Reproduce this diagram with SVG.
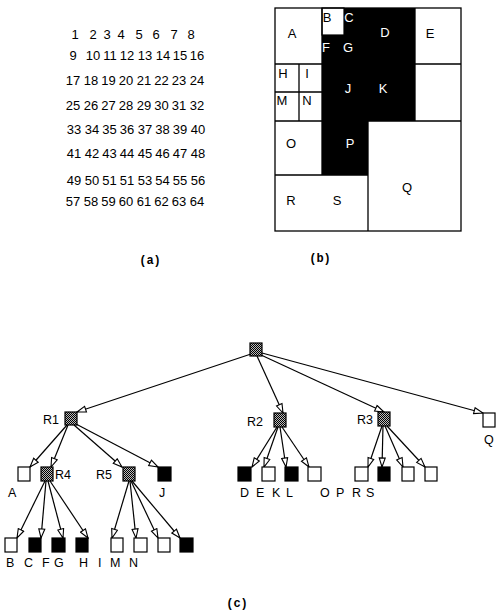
<svg xmlns="http://www.w3.org/2000/svg" width="496" height="614" viewBox="0 0 496 614">
<style>
.num{font-family:"Liberation Sans",Arial,sans-serif;font-size:13px;fill:#000;text-anchor:middle}
.lb{font-family:"Liberation Sans",Arial,sans-serif;font-size:13px;fill:#000;text-anchor:middle}
.lbw{font-family:"Liberation Sans",Arial,sans-serif;font-size:13px;fill:#fff;text-anchor:middle}
.tl{font-family:"Liberation Sans",Arial,sans-serif;font-size:12.5px;fill:#000}
.cap{font-family:"Liberation Mono","Courier New",monospace;font-size:12px;font-weight:bold;fill:#000;text-anchor:middle}
.ln{stroke:#000;stroke-width:1.3;fill:none}
.e{stroke:#000;stroke-width:1.2;fill:none;marker-end:url(#ah)}
.w{fill:#fff;stroke:#000;stroke-width:1.2}
.b{fill:#000;stroke:#000;stroke-width:1.2}
.g{fill:url(#chk);stroke:#000;stroke-width:1.2}
</style>
<defs>
<pattern id="chk" width="2" height="2" patternUnits="userSpaceOnUse"><rect width="2" height="2" fill="#bbb"/><rect width="1" height="1" fill="#000"/><rect x="1" y="1" width="1" height="1" fill="#000"/></pattern>
<marker id="ah" markerWidth="11" markerHeight="8" refX="10" refY="4" orient="auto" markerUnits="userSpaceOnUse"><path d="M1,1 L10,4 L1,7 Z" fill="#fff" stroke="#000" stroke-width="1.1"/></marker>
</defs>
<rect width="496" height="614" fill="#fff"/>

<g id="grid-a">
<text class="num" y="38.5"><tspan x="75">1</tspan><tspan x="93">2</tspan><tspan x="107">3</tspan><tspan x="121">4</tspan><tspan x="139">5</tspan><tspan x="156">6</tspan><tspan x="174">7</tspan><tspan x="191">8</tspan></text>
<text class="num" y="60"><tspan x="73">9</tspan><tspan x="93">10</tspan><tspan x="110">11</tspan><tspan x="127">12</tspan><tspan x="145">13</tspan><tspan x="163">14</tspan><tspan x="180">15</tspan><tspan x="197">16</tspan></text>
<text class="num" y="84.5"><tspan x="73">17</tspan><tspan x="91">18</tspan><tspan x="108.5">19</tspan><tspan x="126">20</tspan><tspan x="144">21</tspan><tspan x="161.5">22</tspan><tspan x="179">23</tspan><tspan x="197">24</tspan></text>
<text class="num" y="109.5"><tspan x="73">25</tspan><tspan x="91">26</tspan><tspan x="108.5">27</tspan><tspan x="126">28</tspan><tspan x="144">29</tspan><tspan x="161.5">30</tspan><tspan x="179">31</tspan><tspan x="197">32</tspan></text>
<text class="num" y="133.5"><tspan x="74">33</tspan><tspan x="92">34</tspan><tspan x="109.5">35</tspan><tspan x="127">36</tspan><tspan x="145">37</tspan><tspan x="162.5">38</tspan><tspan x="180">39</tspan><tspan x="198">40</tspan></text>
<text class="num" y="157.5"><tspan x="74">41</tspan><tspan x="92">42</tspan><tspan x="109.5">43</tspan><tspan x="127">44</tspan><tspan x="145">45</tspan><tspan x="162.5">46</tspan><tspan x="180">47</tspan><tspan x="198">48</tspan></text>
<text class="num" y="185"><tspan x="74">49</tspan><tspan x="92">50</tspan><tspan x="109.5">51</tspan><tspan x="127">51</tspan><tspan x="145">53</tspan><tspan x="162.5">54</tspan><tspan x="180">55</tspan><tspan x="198">56</tspan></text>
<text class="num" y="206"><tspan x="73">57</tspan><tspan x="91">58</tspan><tspan x="108.5">59</tspan><tspan x="126">60</tspan><tspan x="144">61</tspan><tspan x="161.5">62</tspan><tspan x="179">63</tspan><tspan x="197">64</tspan></text>
<text class="cap" x="150" y="264">(a)</text>
</g>

<g id="region-b">
<path d="M322,8 H415 V121 H368 V175 H322 Z" fill="#000"/>
<rect x="322" y="8" width="22" height="27" class="w"/>
<rect x="275" y="8" width="186" height="223" class="ln"/>
<path class="ln" d="M322,8 V175 M275,64 H322 M299,64 V121 M275,92 H322 M275,121 H322 M275,175 H368 M368,121 V231 M368,121 H461 M415,8 V121 M415,64 H461"/>
<text class="lb" x="292" y="38">A</text>
<text class="lb" x="327" y="22">B</text>
<text class="lbw" x="349" y="22">C</text>
<text class="lbw" x="385" y="37">D</text>
<text class="lb" x="430" y="38">E</text>
<text class="lbw" x="326" y="52">F</text>
<text class="lbw" x="348" y="52">G</text>
<text class="lb" x="283" y="78">H</text>
<text class="lb" x="307" y="78">I</text>
<text class="lbw" x="348" y="93">J</text>
<text class="lbw" x="383" y="93">K</text>
<text class="lb" x="282" y="105">M</text>
<text class="lb" x="307" y="105">N</text>
<text class="lb" x="291" y="148">O</text>
<text class="lbw" x="350" y="148">P</text>
<text class="lb" x="407" y="192">Q</text>
<text class="lb" x="291" y="205">R</text>
<text class="lb" x="337" y="205">S</text>
<text class="cap" x="320" y="262">(b)</text>
</g>

<g id="connectors">
<line class="e" x1="251" y1="354" x2="77" y2="412"/>
<line class="e" x1="257" y1="356" x2="283" y2="413"/>
<line class="e" x1="261" y1="355" x2="384" y2="412"/>
<line class="e" x1="262" y1="353" x2="483" y2="413"/>
<line class="e" x1="67" y1="425" x2="30" y2="467"/>
<line class="e" x1="68" y1="425" x2="51" y2="467"/>
<line class="e" x1="74" y1="425" x2="122" y2="467"/>
<line class="e" x1="76" y1="424" x2="158" y2="467"/>
<line class="e" x1="45" y1="481" x2="17" y2="538"/>
<line class="e" x1="46" y1="481" x2="41" y2="538"/>
<line class="e" x1="48" y1="481" x2="63" y2="538"/>
<line class="e" x1="50" y1="481" x2="88" y2="538"/>
<line class="e" x1="129" y1="481" x2="112" y2="538"/>
<line class="e" x1="130" y1="481" x2="136" y2="538"/>
<line class="e" x1="131" y1="481" x2="158" y2="538"/>
<line class="e" x1="132" y1="481" x2="180" y2="538"/>
<line class="e" x1="277" y1="427" x2="252" y2="467"/>
<line class="e" x1="278" y1="427" x2="264" y2="467"/>
<line class="e" x1="280" y1="427" x2="286" y2="467"/>
<line class="e" x1="282" y1="427" x2="309" y2="467"/>
<line class="e" x1="382" y1="426" x2="368" y2="467"/>
<line class="e" x1="383" y1="426" x2="382" y2="467"/>
<line class="e" x1="385" y1="426" x2="403" y2="467"/>
<line class="e" x1="387" y1="426" x2="425" y2="467"/>
</g>

<g id="root"><rect class="g" x="250" y="343" width="12" height="13"/></g>
<g id="R1"><rect class="g" x="65" y="412" width="12" height="13"/><text class="tl" x="43" y="424">R1</text></g>
<g id="R2"><rect class="g" x="274" y="413" width="12" height="14"/><text class="tl" x="247" y="426">R2</text></g>
<g id="R3"><rect class="g" x="378" y="412" width="12" height="14"/><text class="tl" x="357" y="424">R3</text></g>
<g id="Q"><rect class="w" x="483" y="413" width="12" height="14"/><text class="tl" x="484" y="444">Q</text></g>

<g id="A"><rect class="w" x="18" y="467" width="12" height="14"/><text class="tl" x="8" y="497">A</text></g>
<g id="R4"><rect class="g" x="41" y="467" width="12" height="14"/><text class="tl" x="55" y="479">R4</text></g>
<g id="R5"><rect class="g" x="123" y="467" width="12" height="14"/><text class="tl" x="96" y="479">R5</text></g>
<g id="J"><rect class="b" x="158" y="467" width="13" height="14"/><text class="tl" x="159" y="497">J</text></g>

<g id="D"><rect class="b" x="238" y="467" width="13" height="14"/></g>
<g id="E"><rect class="w" x="262" y="467" width="13" height="14"/></g>
<g id="KL"><rect class="b" x="285" y="467" width="13" height="14"/></g>
<g id="O"><rect class="w" x="308" y="467" width="13" height="14"/></g>
<g id="PR"><rect class="w" x="355" y="467" width="13" height="14"/></g>
<g id="S"><rect class="b" x="378" y="467" width="12" height="14"/></g>
<g id="R3c3"><rect class="w" x="402" y="467" width="12" height="14"/></g>
<g id="R3c4"><rect class="w" x="425" y="467" width="12" height="14"/></g>
<g id="row2-labels">
<text class="tl" y="497"><tspan x="240">D</tspan><tspan x="256">E</tspan><tspan x="272">K</tspan><tspan x="286">L</tspan><tspan x="320">O</tspan><tspan x="336">P</tspan><tspan x="352">R</tspan><tspan x="366">S</tspan></text>
</g>

<g id="B"><rect class="w" x="5" y="538" width="12" height="14"/></g>
<g id="C"><rect class="b" x="29" y="538" width="12" height="14"/></g>
<g id="F"><rect class="b" x="52" y="538" width="13" height="14"/></g>
<g id="G"><rect class="b" x="76" y="538" width="12" height="14"/></g>
<g id="H"><rect class="w" x="111" y="538" width="12" height="14"/></g>
<g id="I"><rect class="w" x="134" y="538" width="13" height="14"/></g>
<g id="M"><rect class="w" x="158" y="538" width="12" height="14"/></g>
<g id="N"><rect class="b" x="180" y="538" width="13" height="14"/></g>
<g id="row3-labels">
<text class="tl" y="567"><tspan x="6">B</tspan><tspan x="24">C</tspan><tspan x="42">F</tspan><tspan x="54">G</tspan><tspan x="79">H</tspan><tspan x="98">I</tspan><tspan x="110">M</tspan><tspan x="129">N</tspan></text>
</g>
<text class="cap" x="237" y="607">(c)</text>
</svg>
